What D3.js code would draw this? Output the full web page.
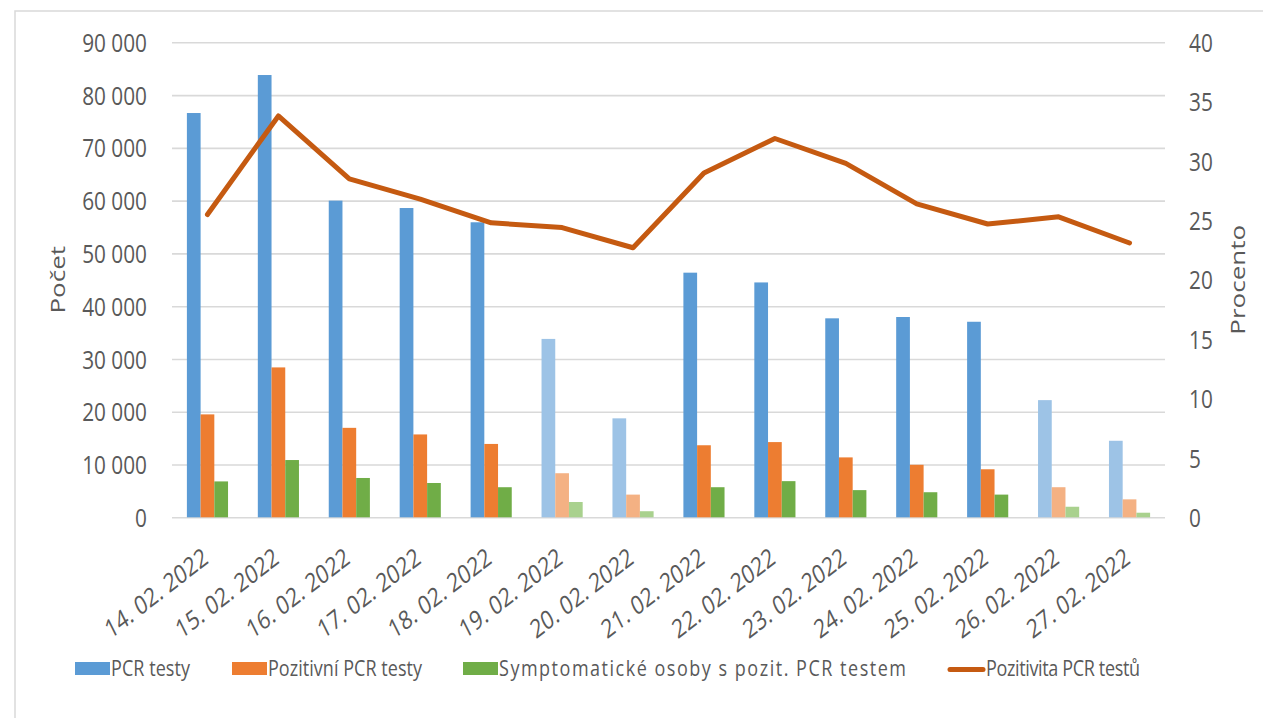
<!DOCTYPE html>
<html>
<head>
<meta charset="utf-8">
<script src="https://cdn.jsdelivr.net/npm/d3@7"></script>
<style>
  html, body { margin: 0; padding: 0; background: #fff; }
  text { font-family: 'Open Sans', sans-serif; fill: #595959; }
</style>
</head>
<body>
<script>
// data
const dates = ['14. 02. 2022', '15. 02. 2022', '16. 02. 2022', '17. 02. 2022', '18. 02. 2022',
  '19. 02. 2022', '20. 02. 2022', '21. 02. 2022', '22. 02. 2022', '23. 02. 2022',
  '24. 02. 2022', '25. 02. 2022', '26. 02. 2022', '27. 02. 2022'];
const pcrTests = [76600, 83800, 60000, 58600, 55900, 33800, 18750, 46350, 44500, 37700, 37950, 37050, 22200, 14500];
const positiveTests = [19500, 28400, 16950, 15700, 13900, 8350, 4300, 13650, 14250, 11350, 9950, 9100, 5700, 3400];
const symptomatic = [6800, 10850, 7450, 6500, 5700, 2900, 1150, 5700, 6850, 5150, 4750, 4300, 2000, 870];
const positivity = [25.5, 33.8, 28.5, 26.8, 24.8, 24.4, 22.7, 29.0, 31.9, 29.8, 26.4, 24.7, 25.3, 23.1];

const barSeries = ['PCR testy', 'Pozitivní PCR testy', 'Symptomatické osoby s pozit. PCR testem'];
const lineSeries = 'Pozitivita PCR testů';
const leftTicks = d3.range(0, 90001, 10000);
const rightTicks = d3.range(0, 41, 5);

const colors = ['#5b9bd5', '#ed7d31', '#70ad47'];
const lightColors = ['#9dc3e6', '#f4b183', '#a9d18e'];
const lineColor = '#c55a11';

const width = 1263, height = 718;
// the reference looks squeezed horizontally, so everything is drawn in a wider space
const sx = 0.8;
const X = v => v / sx;

const plotLeft = 172, plotRight = 1165, plotTop = 42.3, plotBottom = 517.3;

const svg = d3.select('body').append('svg')
  .attr('width', width)
  .attr('height', height);

svg.append('rect').attr('width', width).attr('height', height).attr('fill', '#fff');
svg.append('rect')
  .attr('x', 15).attr('y', 11)
  .attr('width', 1300).attr('height', 800)
  .attr('fill', 'none').attr('stroke', '#d9d9d9').attr('stroke-width', 1.5);

const g = svg.append('g').attr('transform', `scale(${sx},1)`);

const yLeft = d3.scaleLinear().domain([0, 90000]).range([plotBottom, plotTop]);
const yRight = d3.scaleLinear().domain([0, 40]).range([plotBottom, plotTop]);

const x0 = d3.scaleBand().domain(dates).range([X(plotLeft), X(plotRight)]).padding(0);
const bw = x0.bandwidth();
const groupW = bw * 0.58;
const x1 = d3.scaleBand().domain(barSeries).range([(bw - groupW) / 2, (bw + groupW) / 2]).padding(0);

const fmt = d3.formatLocale({ decimal: ',', thousands: ' ', grouping: [3], currency: ['', ''] }).format(',d');

// gridlines + left axis
const leftAxis = g.append('g')
  .attr('transform', `translate(${X(plotLeft)},0)`)
  .call(d3.axisLeft(yLeft).tickValues(leftTicks).tickSize(-(X(plotRight) - X(plotLeft))).tickFormat(fmt));
leftAxis.select('.domain').remove();
leftAxis.selectAll('line').attr('stroke', '#d9d9d9').attr('stroke-width', 1.6);
leftAxis.selectAll('text')
  .attr('x', -X(plotLeft - 147))
  .attr('dy', '0.35em')
  .style('font-size', '26px')
  .attr('fill', '#595959');

// right axis
const rightAxis = g.append('g')
  .attr('transform', `translate(${X(plotRight)},0)`)
  .call(d3.axisRight(yRight).tickValues(rightTicks).tickSize(0));
rightAxis.select('.domain').remove();
rightAxis.selectAll('text')
  .attr('x', X(1189 - plotRight))
  .attr('dy', '0.35em')
  .style('font-size', '26px')
  .attr('fill', '#595959');

// bars, weekends drawn lighter
const weekend = dates.map(d => {
  const [day, month, year] = d.split('.').map(s => +s.trim());
  const wd = new Date(year, month - 1, day).getDay();
  return wd === 0 || wd === 6;
});
const values = [pcrTests, positiveTests, symptomatic];

const groups = g.append('g').selectAll('g')
  .data(dates)
  .join('g')
  .attr('transform', d => `translate(${x0(d)},0)`);

groups.selectAll('rect')
  .data((d, i) => barSeries.map((s, k) => ({ s, k, v: values[k][i], light: weekend[i] })))
  .join('rect')
  .attr('x', d => x1(d.s))
  .attr('width', x1.bandwidth())
  .attr('y', d => yLeft(d.v))
  .attr('height', d => yLeft(0) - yLeft(d.v))
  .attr('fill', d => d.light ? lightColors[d.k] : colors[d.k]);

// x labels
const xAxis = g.append('g')
  .attr('transform', `translate(0,${plotBottom})`)
  .call(d3.axisBottom(x0).tickSize(0));
xAxis.select('.domain').remove();
xAxis.selectAll('text')
  .attr('y', 0)
  .attr('dy', 0)
  .attr('text-anchor', 'end')
  .attr('transform', `translate(${X(2)},${562 - plotBottom}) rotate(-32)`)
  .style('font-size', '26px')
  .attr('fill', '#595959');

// positivity line
const line = d3.line()
  .x((d, i) => x0(dates[i]) + bw / 2)
  .y(d => yRight(d));

g.append('path')
  .datum(positivity)
  .attr('d', line)
  .attr('fill', 'none')
  .attr('stroke', lineColor)
  .attr('stroke-width', 5)
  .attr('stroke-linejoin', 'round')
  .attr('stroke-linecap', 'round')
  .attr('vector-effect', 'non-scaling-stroke');

// axis titles
g.append('text')
  .attr('transform', `translate(${X(58)},${(plotTop + plotBottom) / 2}) rotate(-90)`)
  .attr('text-anchor', 'middle')
  .attr('dy', '0.35em')
  .style('font-size', '26px')
  .text('Počet');

g.append('text')
  .attr('transform', `translate(${X(1238)},${(plotTop + plotBottom) / 2}) rotate(-90)`)
  .attr('text-anchor', 'middle')
  .attr('dy', '0.35em')
  .style('font-size', '26px')
  .text('Procento');

// legend (entry positions and text widths follow the reference)
const legendX = [75, 232, 463, 948];
const legendTextW = [79, 154, 407, 154];
const legend = g.append('g');
const legendItems = barSeries.map((s, k) => ({ name: s, k })).concat([{ name: lineSeries, k: -1 }]);
legendItems.forEach((item, i) => {
  const lx = legendX[i];
  const sw = item.k >= 0 ? 35 : 37;
  if (item.k >= 0) {
    legend.append('rect')
      .attr('x', X(lx)).attr('y', 662)
      .attr('width', X(sw)).attr('height', 13)
      .attr('fill', colors[item.k]);
  } else {
    legend.append('line')
      .attr('x1', X(lx + 2)).attr('x2', X(lx + sw - 2))
      .attr('y1', 669.5).attr('y2', 669.5)
      .attr('stroke', lineColor)
      .attr('stroke-width', 5)
      .attr('stroke-linecap', 'round')
      .attr('vector-effect', 'non-scaling-stroke');
  }
  legend.append('text')
    .attr('x', X(lx + sw + 1))
    .attr('y', 676)
    .attr('textLength', X(legendTextW[i]))
    .attr('lengthAdjust', 'spacing')
    .style('font-size', '22.5px')
    .text(item.name);
});
</script>
</body>
</html>
